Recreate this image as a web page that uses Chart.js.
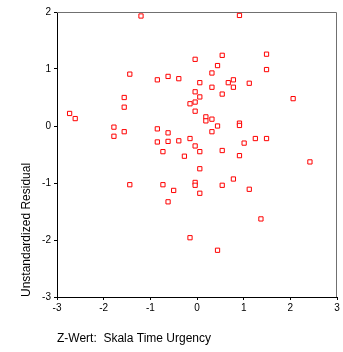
<!DOCTYPE html>
<html>
<head>
<meta charset="utf-8">
<script src="https://cdn.jsdelivr.net/npm/chart.js@4"></script>
<style>
  html, body { margin: 0; padding: 0; background: #fff; }
  #wrap { width: 343px; height: 352px; }
</style>
</head>
<body>
<div id="wrap"><canvas id="scatter" width="343" height="352"></canvas></div>
<script>
// Werte
var zWert = [-1.20, 0.91, -0.04, 0.54, 1.49, 0.44, 1.49, -1.44, 0.32, -0.62,
             -0.39, -0.85, 0.78, 0.06, 0.67, 1.12, 0.32, 0.78, -0.04, 0.54,
             -1.56, 0.06, 2.06, -0.04, -0.15, -1.56, -0.04, -2.73, 0.19, -2.61,
             0.32, 0.19, 0.91, 0.44, 0.91, -1.78, -0.85, -1.56, 0.32, -0.62,
             -1.78, -0.15, 1.25, 1.49, -0.39, -0.85, -0.62, 1.01, -0.04, 0.54,
             -0.73, 0.06, 0.91, -0.27, 2.42, 0.06, 0.78, -0.04, -1.44, -0.73,
             0.54, -0.04, 1.12, -0.50, 0.06, -0.62, 1.37, -0.15, 0.44];
var residual = [1.93, 1.94, 1.17, 1.24, 1.26, 1.06, 0.99, 0.91, 0.93, 0.87,
                0.83, 0.81, 0.81, 0.76, 0.76, 0.75, 0.68, 0.68, 0.60, 0.56,
                0.50, 0.51, 0.48, 0.42, 0.39, 0.33, 0.26, 0.22, 0.16, 0.13,
                0.12, 0.09, 0.05, 0.00, 0.01, -0.02, -0.05, -0.10, -0.10, -0.12,
                -0.18, -0.22, -0.22, -0.22, -0.26, -0.28, -0.27, -0.30, -0.35, -0.43,
                -0.45, -0.45, -0.52, -0.53, -0.63, -0.75, -0.93, -0.99, -1.03, -1.03,
                -1.04, -1.04, -1.11, -1.13, -1.18, -1.33, -1.63, -1.96, -2.18];
var xTicks = [-3, -2, -1, 0, 1, 2, 3];
var yTicks = [-3, -2, -1, 0, 1, 2];

var punkte = zWert.map(function (x, i) { return { x: x, y: residual[i] }; });

// Rahmen oben und rechts in Grau (unter den Punkten)
var rahmen = {
    id: 'rahmen',
    beforeDatasetsDraw: function (chart) {
        var a = chart.chartArea, c = chart.ctx;
        c.save();
        c.strokeStyle = '#707070';
        c.lineWidth = 1;
        c.beginPath();
        c.moveTo(a.left, a.top + 0.5);
        c.lineTo(a.right - 0.5, a.top + 0.5);
        c.lineTo(a.right - 0.5, a.bottom);
        c.stroke();
        c.restore();
    }
};

var ctx = document.getElementById('scatter').getContext('2d');
new Chart(ctx, {
    type: 'scatter',
    data: {
        datasets: [{
            data: punkte,
            pointStyle: 'rect',
            pointRadius: 3,
            pointHoverRadius: 3,
            borderColor: '#ff0000',
            backgroundColor: '#ffffff',
            borderWidth: 1,
            clip: false
        }]
    },
    plugins: [rahmen],
    options: {
        responsive: false,
        animation: false,
        layout: { padding: { left: 0, right: 6, top: 12, bottom: 0 } },
        plugins: { legend: { display: false }, tooltip: { enabled: false } },
        scales: {
            x: {
                min: -3, max: 3,
                afterBuildTicks: function (s) { s.ticks = xTicks.map(function (v) { return { value: v }; }); },
                afterFit: function (s) { s.height = 55; },
                grid: { drawOnChartArea: false, drawTicks: true, tickLength: 3, color: '#000' },
                border: { display: true, color: '#000', width: 1 },
                ticks: { color: '#000', padding: 2, font: { family: 'Liberation Sans, Arial', size: 10 }, maxRotation: 0 },
                title: {
                    display: true,
                    text: 'Z-Wert:  Skala Time Urgency',
                    align: 'start',
                    color: '#000',
                    font: { family: 'Liberation Sans, Arial', size: 12 },
                    padding: { top: 0, bottom: 6 }
                }
            },
            y: {
                min: -3, max: 2,
                afterBuildTicks: function (s) { s.ticks = yTicks.map(function (v) { return { value: v }; }); },
                afterFit: function (s) { s.width = 57; },
                grid: { drawOnChartArea: false, drawTicks: true, tickLength: 3, color: '#000' },
                border: { display: true, color: '#000', width: 1 },
                ticks: { color: '#000', padding: 3, font: { family: 'Liberation Sans, Arial', size: 10 } },
                title: {
                    display: true,
                    text: 'Unstandardized Residual',
                    align: 'start',
                    color: '#000',
                    font: { family: 'Liberation Sans, Arial', size: 12 },
                    padding: { top: 19, bottom: 0 }
                }
            }
        }
    }
});
</script>
</body>
</html>
